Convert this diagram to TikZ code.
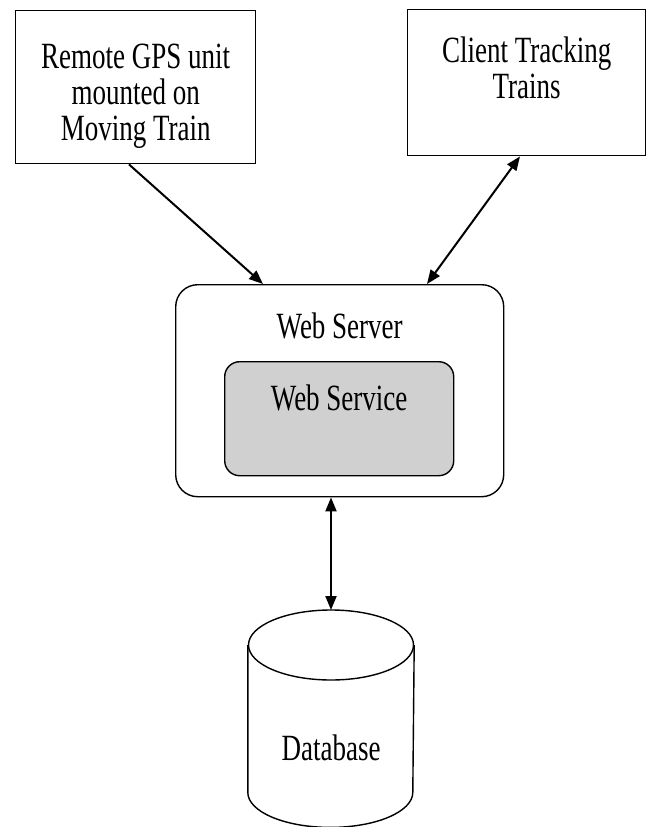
\documentclass[tikz,border=0pt]{standalone}
\usepackage{fontspec}
\setmainfont{Liberation Serif}[FakeStretch=0.73]
\usetikzlibrary{arrows.meta}
\usepackage{xcolor}
\definecolor{servicegray}{RGB}{208,208,208}

\begin{document}
\begin{tikzpicture}[
		x=1pt, y=-1pt,
		% Style definitions for boxes and arrows
		box/.style={draw, line width=1.4pt, inner sep=0pt, align=center, font=\fontsize{37}{36}\selectfont},
		roundbox/.style={box, rounded corners=#1},
		outline/.style={line width=1.4pt},
		arrow/.style={-{Triangle[length=14pt, width=11pt]}, line width=2pt},
		dblarrow/.style={{Triangle[length=14pt, width=11pt]}-{Triangle[length=14pt, width=11pt]}, line width=2pt},
		]
		\useasboundingbox (0,0) rectangle (648,827);

		% === Top row: GPS unit and client ===
		\node[box, minimum width=240pt, text height=130pt, text depth=23pt, anchor=north west] (gps) at (15,10) {%
			Remote GPS unit\\mounted on\\Moving Train};
		\node[box, minimum width=238pt, text height=89pt, text depth=57pt, anchor=north west] (client) at (407,9) {%
			Client Tracking\\Trains};

		% === Middle: Web Server with Web Service inside ===
		\node[roundbox=22pt, minimum width=328pt, text height=54pt, text depth=158pt, anchor=north west] (server) at (175,284) {Web Server};
		\node[roundbox=15pt, fill=servicegray, minimum width=229pt, text height=49pt, text depth=65pt, anchor=north west] (service) at (224,361) {Web Service};

		% === Bottom: Database (cylinder drawn round the node) ===
		\node[box, draw=none, minimum width=165pt, text height=150pt, text depth=66pt, anchor=north] (db) at (331,610) {Database};
		\draw[outline] ([yshift=-35pt]db.north west) -- ([yshift=35pt]db.south west)
			arc[start angle=180, end angle=360, x radius=82.5pt, y radius=35pt]
			-- ([yshift=-35pt]db.north east);
		\draw[outline] ([yshift=-35pt]db.north) ellipse[x radius=82.5pt, y radius=35pt];

		% === Arrows ===
		\draw[arrow] ([xshift=114pt]gps.south west) -- ([xshift=88pt]server.north west);
		\draw[dblarrow] ([xshift=113pt]client.south west) -- ([xshift=252pt]server.north west);
		\draw[dblarrow] (server.south -| db.north) -- (db.north);

	\end{tikzpicture}
\end{document}
